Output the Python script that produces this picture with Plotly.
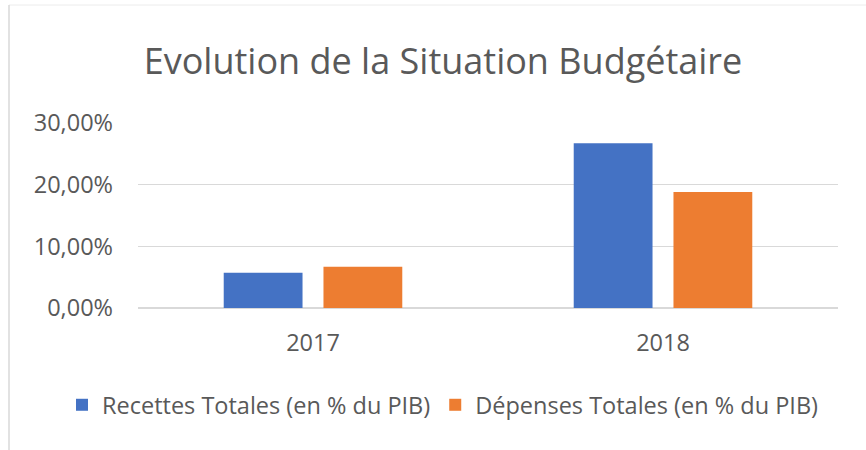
import plotly.graph_objects as go

categories = ["2017", "2018"]
recettes = [0.057, 0.267]
depenses = [0.067, 0.188]
series_names = ["Recettes Totales (en % du PIB)", "Dépenses Totales (en % du PIB)"]
tick_vals = [0, 0.10, 0.20, 0.30]

font_family = "Open Sans, Lato, sans-serif"
txt = "#595959"

fig = go.Figure()
fig.add_trace(go.Bar(x=categories, y=recettes, name=series_names[0],
                     marker=dict(color="#4472c4", line=dict(width=0))))
fig.add_trace(go.Bar(x=categories, y=depenses, name=series_names[1],
                     marker=dict(color="#ed7d31", line=dict(width=0))))

W, H = 866, 450
X0, X1, Y0, Y1 = 138, 838, 123, 308
L, R, T, B = X0, W - X1, Y0, H - Y1
pw, ph = X1 - X0, Y1 - Y0

def px(x):
    return (x - X0) / pw

def py(y):
    return (Y1 - y) / ph

fig.update_layout(
    width=W, height=H,
    margin=dict(l=L, r=R, t=T, b=B, autoexpand=False),
    paper_bgcolor="white", plot_bgcolor="white",
    separators=",.",
    barmode="group", bargap=0.43, bargroupgap=0.21,
    font=dict(family=font_family, color=txt, size=23),
    title=dict(text="Evolution de la Situation Budgétaire", x=443 / W, xanchor="center",
               y=1 - 61 / H, yanchor="middle",
               font=dict(size=36, color=txt, family=font_family)),
    xaxis=dict(showgrid=False, showline=False, ticks="", ticklabelstandoff=18,
               tickfont=dict(size=23.5, color=txt)),
    yaxis=dict(range=[0, 0.30], tickvals=tick_vals, tickformat=".2%",
               showgrid=True, gridcolor="#d9d9d9", gridwidth=1,
               zeroline=True, zerolinecolor="#d9d9d9", showline=False,
               ticks="", ticklabelstandoff=24,
               tickfont=dict(size=23.5, color=txt)),
    legend=dict(orientation="h", x=px(62), xanchor="left", y=py(405), yanchor="middle",
                font=dict(size=23.5, color=txt), itemwidth=30, itemsizing="constant",
                tracegroupgap=0),
    showlegend=True,
    shapes=[
        dict(type="line", xref="paper", yref="paper",
             x0=px(9), x1=px(870), y0=py(5), y1=py(5),
             line=dict(color="#ececec", width=1)),
        dict(type="line", xref="paper", yref="paper",
             x0=px(9), x1=px(9), y0=py(5), y1=py(455),
             line=dict(color="#d9d9d9", width=1.5)),
    ],
)

fig.write_html("out.html", config={"displayModeBar": False},
               post_script="document.body.style.margin='0';")
